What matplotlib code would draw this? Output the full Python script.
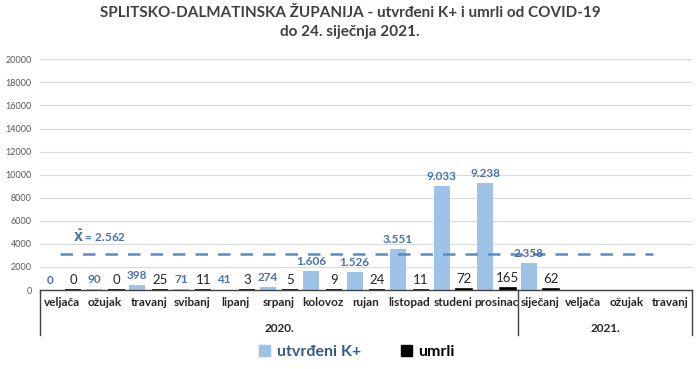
import numpy as np
import matplotlib.pyplot as plt
from matplotlib.patches import Patch

plt.rcParams['font.family'] = ['Lato', 'DejaVu Sans']

# months on the category axis, grouped by year
months = ['veljača', 'ožujak', 'travanj', 'svibanj', 'lipanj', 'srpanj', 'kolovoz',
          'rujan', 'listopad', 'studeni', 'prosinac',
          'siječanj', 'veljača', 'ožujak', 'travanj']
years = ['2020.', '2021.']
months_per_year = [11, 4]

# confirmed cases and deaths per month (no data yet after siječanj 2021)
confirmed = [0, 90, 398, 71, 41, 274, 1606, 1526, 3551, 9033, 9238, 2358]
deaths = [0, 0, 25, 11, 3, 5, 9, 24, 11, 72, 165, 62]

mean_label = '2.562'
mean_level = 3150   # where the dashed line sits in the original

title = 'SPLITSKO-DALMATINSKA ŽUPANIJA - utvrđeni K+ i umrli od COVID-19\ndo 24. siječnja 2021.'

blue = '#9dc3e6'
blue_text = '#4a72a8'
dark = '#262626'

fig = plt.figure(figsize=(7, 3.69), dpi=100)
ax = fig.add_axes([40/700, 1-290/369, 652/700, 230.7/369])

n = len(months)
x_c = np.arange(len(confirmed))
x_d = np.arange(len(deaths))
w = 0.37
off = 0.26

ax.bar(x_c - off, confirmed, w, color=blue, zorder=2)
ax.bar(x_d + off, deaths, w, color='black', edgecolor='black', linewidth=1.2, zorder=2)

for xi, v in zip(x_c, confirmed):
    txt = f'{v:,}'.replace(',', '.')
    ax.annotate(txt, (xi - off, v), xytext=(0, 3), textcoords='offset points',
                ha='center', va='bottom', fontsize=8.5, fontweight='bold', color=blue_text, zorder=4)
for xi, v in zip(x_d, deaths):
    ax.annotate(str(v), (xi + off, v), xytext=(0, 3), textcoords='offset points',
                ha='center', va='bottom', fontsize=9.5, color=dark, zorder=4)

# mean line
ax.plot([-0.04, 13.6], [mean_level, mean_level], color='#5b8bc4', lw=1.8,
        dashes=(5, 4), zorder=3)
ax.text(0.25, 4650, r'$\mathbf{\bar{X}}$ = ' + mean_label, fontsize=8.5, fontweight='bold',
        color=blue_text, ha='left', va='center')

ax.set_xlim(-0.5, n - 0.5)
ax.set_ylim(0, 20000)
ax.set_yticks(np.arange(0, 20001, 2000))
ax.tick_params(axis='y', length=0, labelsize=6.5, labelcolor='#595959', pad=6)
ax.yaxis.grid(True, color='#d9d9d9', lw=0.8, zorder=0)
for s in ['top', 'right', 'left']:
    ax.spines[s].set_visible(False)
ax.spines['bottom'].set_color('#404040')
ax.spines['bottom'].set_linewidth(1)

ax.set_xticks(np.arange(n))
ax.set_xticklabels(months, fontsize=8.5, fontweight='bold', color=dark)
ax.tick_params(axis='x', length=0, pad=5)

# year group boxes below the axis
trans = ax.get_xaxis_transform()
edges = np.concatenate([[0], np.cumsum(months_per_year)]) - 0.5
for e in edges:
    ax.plot([e, e], [0, -0.195], transform=trans, color='#404040', lw=1, clip_on=False)
for i, yr in enumerate(years):
    ax.text((edges[i] + edges[i + 1]) / 2, -0.165, yr, transform=trans, ha='center',
            va='center', fontsize=8.5, fontweight='bold', color=dark)

fig.suptitle(title, fontsize=11, fontweight='bold', color='#404040', y=0.985, linespacing=1.5)

handles = [Patch(color=blue, label='utvrđeni K+'), Patch(color='black', label='umrli')]
leg = fig.legend(handles=handles, loc='center', bbox_to_anchor=(0.51, 0.045), ncol=2,
                 frameon=False, prop={'size': 11.5, 'weight': 'bold'}, handlelength=0.7,
                 handleheight=0.7, handletextpad=0.4, columnspacing=2.5)
leg.get_texts()[0].set_color('#3a5a8a')
leg.get_texts()[1].set_color('black')

fig.savefig('out.png', dpi=100)
